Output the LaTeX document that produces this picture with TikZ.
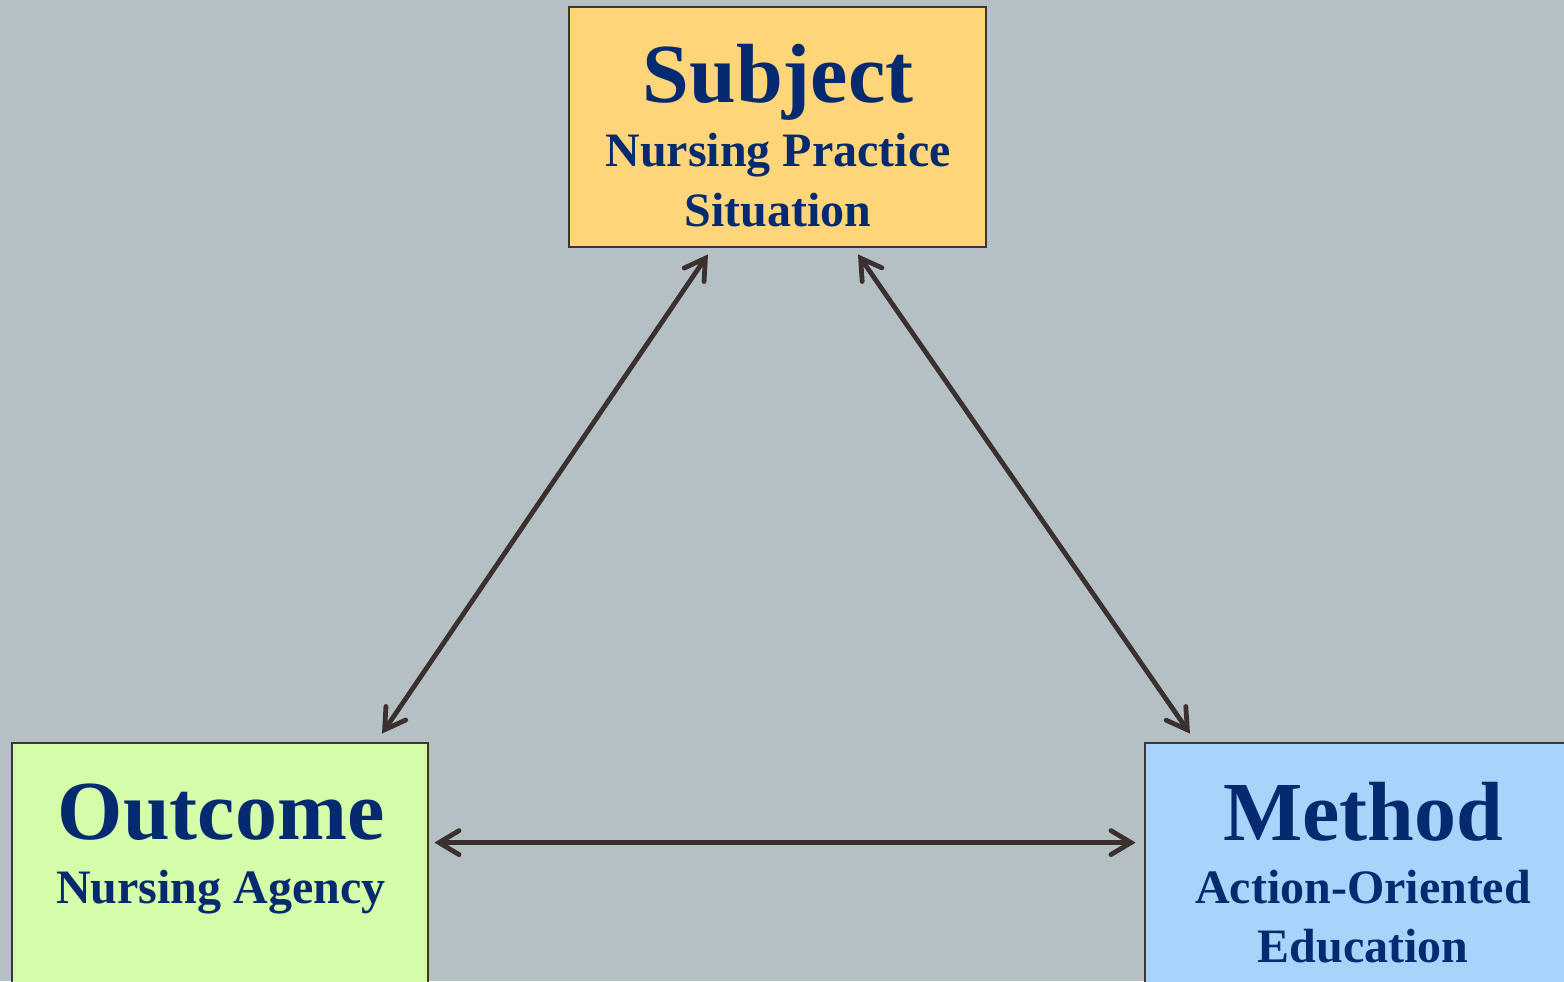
\documentclass[tikz,border=0pt]{standalone}
\usepackage{fontspec}
\setmainfont{Liberation Serif}
\usetikzlibrary{arrows.meta,calc}
\definecolor{bgc}{HTML}{B5C0C4}
\definecolor{subjc}{HTML}{FFD57A}
\definecolor{outc}{HTML}{D5FCA8}
\definecolor{methc}{HTML}{A8D4FC}
\definecolor{edgec}{HTML}{3D3535}
\definecolor{txtc}{HTML}{062A70}
\definecolor{arrc}{HTML}{3A3030}
\tikzset{
  box/.style={draw=edgec,line width=1.4pt,inner sep=0pt},
  bigtxt/.style={anchor=base,text=txtc,font=\bfseries\fontsize{42}{48}\selectfont,inner sep=0pt},
  smalltxt/.style={anchor=base,text=txtc,font=\bfseries\fontsize{24}{28}\selectfont,inner sep=0pt},
  link/.style={draw=arrc,line width=2.4pt,{Straight Barb[length=10pt,width=12pt,line cap=round]}-{Straight Barb[length=10pt,width=12pt,line cap=round]}}
}
\begin{document}
\begin{tikzpicture}[x=0.5pt,y=-0.5pt]
\useasboundingbox (0,0) rectangle (1564,981);
\fill[bgc] (0,0) rectangle (1564,981);
\node[box,fill=subjc,minimum width=208.5pt,minimum height=120pt] (subj) at (777.5,127) {};
\node[box,fill=outc,minimum width=208pt,minimum height=140pt] (out) at (220,883) {};
\node[box,fill=methc,minimum width=212.5pt,minimum height=140pt] (meth) at (1357.5,883) {};
\node[bigtxt] (t1) at (778,102) {Subject};
\node[smalltxt] (t2) at (778,166) {Nursing Practice};
\node[smalltxt] (t3) at (778,226) {Situation};
\node[bigtxt] (t4) at (221,839) {Outcome};
\node[smalltxt] (t5) at (221,903) {Nursing Agency};
\node[bigtxt] (t6) at (1363,840) {Method};
\node[smalltxt] (t7) at (1363,903) {Action-Oriented};
\node[smalltxt] (t8) at (1363,962) {Education};
\draw[link] ($(subj.south)+(-69.5,6)$) -- ($(out.north)+(162,-8)$);
\draw[link] ($(subj.south)+(80.5,6)$) -- ($(meth.north)+(-167.5,-8)$);
\draw[link] ($(out.north east)+(5,101)$) -- ($(meth.north west)+(-8,101)$);
\end{tikzpicture}
\end{document}
